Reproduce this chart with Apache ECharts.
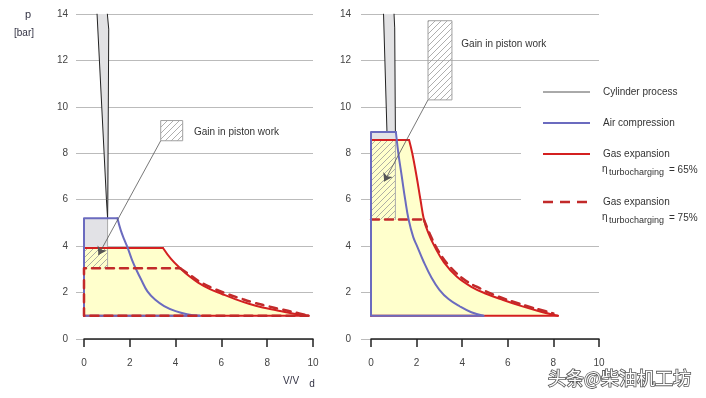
<!DOCTYPE html>
<html>
<head>
<meta charset="utf-8">
<script src="https://cdn.jsdelivr.net/npm/echarts@6/dist/echarts.min.js"></script>
<style>
  html, body { margin: 0; padding: 0; background: #fff; }
  #pv { width: 706px; height: 398px; }
</style>
</head>
<body>
<div id="pv"></div>
<script>
// axis ranges
var vRange = [0, 10]
var pRange = [0, 14]

// ---- left diagram ----
var cylLeftA = [[0.57, 14], [0.98, 6.0], [1.03, 5.2]]
var cylLeftB = [[1.02, 14], [1.08, 13.35], [1.04, 6.0], [1.03, 5.2]]
var airLeftCorner = [[5.05, 1.0], [0, 1.0], [0, 5.2], [1.46, 5.2]]
var airLeftCurve = [[1.46, 5.2], [1.6, 4.7], [1.75, 4.3], [1.9, 3.95], [2.1, 3.4], [2.3, 2.95], [2.5, 2.55],
  [2.77, 2.05], [3.1, 1.7], [3.5, 1.42], [4.0, 1.2], [4.5, 1.07], [5.05, 1.0]]
var gas65LeftCorner = [[0, 1.0], [0, 3.92], [3.45, 3.92]]
var gas65LeftCurve = [[3.45, 3.92], [3.8, 3.45], [4.2, 3.05], [4.6, 2.7], [5.0, 2.42], [5.5, 2.15],
  [6.0, 1.95], [6.6, 1.72], [7.2, 1.52], [7.8, 1.36], [8.4, 1.24], [9.0, 1.12], [9.8, 1.0]]
var gas75LeftCorner = [[9.8, 1.0], [0, 1.0], [0, 3.05], [4.2, 3.05]]
var gas75LeftCurve = [[4.2, 3.05], [4.6, 2.78], [5.0, 2.5], [5.6, 2.2], [6.2, 1.96], [6.8, 1.76],
  [7.4, 1.57], [8.0, 1.42], [8.6, 1.28], [9.2, 1.15], [9.8, 1.0]]
var grayBoxLeft = [0, 3.92, 1.03, 5.2]
var hatchLeft = [0, 3.05, 1.03, 3.92]
var edgeLeft = [[1.03, 5.2], [1.03, 3.05]]
var gainBoxLeft = [3.35, 8.54, 4.31, 9.41]
var gainTextLeft = [4.8, 8.92]
var arrowLeft = [[3.35, 8.54], [0.63, 3.62]]

// ---- right diagram ----
var cylRightA = [[0.55, 14], [0.70, 8.92]]
var cylRightB = [[1.01, 14], [1.04, 13.4], [1.07, 8.92]]
var airRightCorner = [[4.93, 1.0], [0, 1.0], [0, 8.92], [1.09, 8.92]]
var airRightCurve = [[1.09, 8.92], [1.2, 8.0], [1.35, 7.0], [1.5, 6.0], [1.65, 5.15], [1.85, 4.4],
  [2.02, 4.0], [2.3, 3.35], [2.65, 2.65], [3.0, 2.12], [3.4, 1.72], [3.9, 1.4], [4.4, 1.15], [4.93, 1.0]]
var gas65RightCorner = [[0, 1.0], [0, 8.57], [1.67, 8.57]]
var gas65RightCurve = [[1.67, 8.57], [1.81, 8.0], [2.0, 7.0], [2.17, 6.0], [2.32, 5.15], [2.5, 4.6],
  [2.78, 4.0], [3.2, 3.3], [3.77, 2.68], [4.4, 2.25], [5.05, 1.95], [5.8, 1.68], [6.5, 1.45],
  [7.3, 1.22], [8.2, 1.0]]
var gas75RightCorner = [[0, 5.15], [2.32, 5.15]]
var gas75RightCurve = [[2.32, 5.15], [2.6, 4.48], [3.0, 3.72], [3.5, 3.08], [4.1, 2.55], [4.8, 2.17],
  [5.5, 1.86], [6.2, 1.62], [6.9, 1.4], [7.5, 1.24], [8.0, 1.1]]
var grayBoxRight = [0, 8.57, 1.07, 8.92]
var hatchRight = [0, 5.15, 1.07, 8.57]
var edgeRight = [[1.07, 8.57], [1.07, 5.15]]
var gainBoxRight = [2.5, 10.3, 3.55, 13.71]
var gainTextRight = [3.96, 12.71]
var arrowRight = [[2.5, 10.3], [0.58, 6.78]]

var gainText = 'Gain in piston work'

var BLUE = '#6b6bbf'
var RED = '#d42020'
var RED_D = '#c22a2a'
var FONT = '"Liberation Sans", Arial, sans-serif'

// diagonal hatch pattern
var hatchCanvas = document.createElement('canvas')
hatchCanvas.width = 6
hatchCanvas.height = 6
var hc = hatchCanvas.getContext('2d')
hc.strokeStyle = '#9a9a9a'
hc.lineWidth = 0.8
hc.beginPath()
hc.moveTo(0, 6); hc.lineTo(6, 0)
hc.moveTo(-1, 1); hc.lineTo(1, -1)
hc.moveTo(5, 7); hc.lineTo(7, 5)
hc.stroke()
var hatch = { image: hatchCanvas, repeat: 'repeat' }

function rectPts (b) {
  return [[b[0], b[1]], [b[2], b[1]], [b[2], b[3]], [b[0], b[3]]]
}

function poly (idx, pts, style, z) {
  return {
    type: 'custom', xAxisIndex: idx, yAxisIndex: idx, z: z, silent: true, animation: false,
    data: [[0, 0]],
    renderItem: function (params, api) {
      return {
        type: 'polygon',
        shape: { points: pts.map(function (p) { return api.coord(p) }) },
        style: style
      }
    }
  }
}

function path (idx, pts, color, width, dash, z, smooth) {
  return {
    type: 'line', xAxisIndex: idx, yAxisIndex: idx, data: pts, symbol: 'none', showSymbol: false,
    z: z, silent: true, animation: false, smooth: smooth || false,
    lineStyle: { color: color, width: width, type: dash || 'solid', cap: 'round', join: 'round' }
  }
}

function label (idx, pt, text) {
  return {
    type: 'custom', xAxisIndex: idx, yAxisIndex: idx, z: 12, silent: true, animation: false,
    data: [[0, 0]],
    renderItem: function (params, api) {
      var c = api.coord(pt)
      return {
        type: 'text', x: c[0], y: c[1],
        style: { text: text, fill: '#333', font: '10px ' + FONT, align: 'left', verticalAlign: 'middle' }
      }
    }
  }
}

function arrow (idx, coords) {
  return {
    type: 'lines', coordinateSystem: 'cartesian2d', xAxisIndex: idx, yAxisIndex: idx, z: 11,
    silent: true, animation: false, symbol: ['none', 'arrow'], symbolSize: 8,
    lineStyle: { color: '#555', width: 0.8, opacity: 1 },
    data: [{ coords: coords }]
  }
}

function panel (idx, d) {
  var cylFill = d.cylA.concat(d.cylB.slice().reverse())
  var yellow = d.gasCorner.concat(d.gasCurve.slice(1))
  if (yellow[0][0] !== 0 || yellow[0][1] !== 1.0) yellow.unshift([0, 1.0])
  var s = [
    poly(idx, yellow, { fill: '#ffffcc' }, 1),
    poly(idx, rectPts(d.grayBox), { fill: '#e2e2e6' }, 2),
    poly(idx, rectPts(d.hatch), { fill: hatch }, 3),
    poly(idx, cylFill, { fill: '#e2e2e4' }, 4),
    path(idx, d.cylA, '#222', 1, null, 5),
    path(idx, d.cylB, '#222', 1, null, 5),
    path(idx, d.edge, '#aaa', 1, null, 5),
    path(idx, [d.gasCurve[d.gasCurve.length - 1], [0, 1.0]], RED, 2, null, 6),
    path(idx, d.gasCorner, RED, 2, null, 6),
    path(idx, d.gasCurve, RED, 2, null, 6, 0.4),
    path(idx, d.airCorner, BLUE, 2, null, d.airZ),
    path(idx, d.airCurve, BLUE, 2, null, d.airZ, 0.4),
    path(idx, d.dashCorner, RED_D, 2.5, [8, 6], d.dashZ),
    path(idx, d.dashCurve, RED_D, 2.5, [8, 6], d.dashZ, 0.4),
    poly(idx, rectPts(d.gainBox), { fill: hatch, stroke: '#a0a0a0', lineWidth: 1 }, 9),
    label(idx, d.gainText, gainText),
    arrow(idx, d.arrow)
  ]
  return s
}

var series = panel(0, {
  cylA: cylLeftA, cylB: cylLeftB, airCorner: airLeftCorner, airCurve: airLeftCurve,
  gasCorner: gas65LeftCorner, gasCurve: gas65LeftCurve,
  dashCorner: gas75LeftCorner, dashCurve: gas75LeftCurve,
  grayBox: grayBoxLeft, hatch: hatchLeft, edge: edgeLeft, gainBox: gainBoxLeft,
  gainText: gainTextLeft, arrow: arrowLeft, airZ: 7, dashZ: 8
}).concat(panel(1, {
  cylA: cylRightA, cylB: cylRightB, airCorner: airRightCorner, airCurve: airRightCurve,
  gasCorner: gas65RightCorner, gasCurve: gas65RightCurve,
  dashCorner: gas75RightCorner, dashCurve: gas75RightCurve,
  grayBox: grayBoxRight, hatch: hatchRight, edge: edgeRight, gainBox: gainBoxRight,
  gainText: gainTextRight, arrow: arrowRight, airZ: 8, dashZ: 7
}))

function xAx (idx) {
  return {
    gridIndex: idx, type: 'value', min: vRange[0], max: vRange[1], interval: 2,
    axisLine: { show: true, onZero: false, lineStyle: { color: '#222', width: 1.5 } },
    axisTick: { show: true, length: 8, lineStyle: { color: '#222', width: 1.5 } },
    axisLabel: { margin: 19, color: '#444', fontSize: 10, fontFamily: FONT },
    splitLine: { show: false }
  }
}

function yAx (idx, tick, margin) {
  return {
    gridIndex: idx, type: 'value', min: pRange[0], max: pRange[1], interval: 2,
    axisLine: { show: false },
    axisTick: { show: true, length: tick, lineStyle: { color: '#bbb' } },
    axisLabel: { margin: margin, color: '#444', fontSize: 10, fontFamily: FONT },
    splitLine: { show: true, lineStyle: { color: '#bbb', width: 1 } }
  }
}

// legend drawn by hand, like the original figure
var legendItems = [
  { y: 92, color: '#555', width: 1, dash: null, text: 'Cylinder process' },
  { y: 123, color: BLUE, width: 2, dash: null, text: 'Air compression' },
  { y: 154, color: RED, width: 2.2, dash: null, text: 'Gas expansion', eta: '= 65%' },
  { y: 202, color: RED_D, width: 2.5, dash: [10, 7], text: 'Gas expansion', eta: '= 75%' }
]

var graphics = [
  // legend area has no grid lines for 10, 8, 6
  { type: 'rect', shape: { x: 521, y: 95, width: 85, height: 115 }, style: { fill: '#fff' }, z: 50, silent: true }
]
legendItems.forEach(function (it) {
  graphics.push({
    type: 'line', z: 60, silent: true,
    shape: { x1: 543, y1: it.y, x2: 590, y2: it.y },
    style: { stroke: it.color, lineWidth: it.width, lineDash: it.dash }
  })
  graphics.push({
    type: 'text', z: 60, silent: true, x: 603, y: it.y,
    style: { text: it.text, fill: '#333', font: '10px ' + FONT, verticalAlign: 'middle' }
  })
  if (it.eta) {
    graphics.push({ type: 'text', z: 60, silent: true, x: 602, y: it.y + 15,
      style: { text: 'η', fill: '#333', font: '10px ' + FONT, verticalAlign: 'middle' } })
    graphics.push({ type: 'text', z: 60, silent: true, x: 609, y: it.y + 19,
      style: { text: 'turbocharging', fill: '#333', font: '9px ' + FONT, verticalAlign: 'middle' } })
    graphics.push({ type: 'text', z: 60, silent: true, x: 669, y: it.y + 16,
      style: { text: it.eta, fill: '#333', font: '10px ' + FONT, verticalAlign: 'middle' } })
  }
})
graphics.push(
  { type: 'text', silent: true, x: 28, y: 15, style: { text: 'p', fill: '#334', font: '11px ' + FONT, align: 'center', verticalAlign: 'middle' } },
  { type: 'text', silent: true, x: 24, y: 33, style: { text: '[bar]', fill: '#334', font: '10px ' + FONT, align: 'center', verticalAlign: 'middle' } },
  { type: 'text', silent: true, x: 291, y: 381, style: { text: 'V/V', fill: '#334', font: '10px ' + FONT, align: 'center', verticalAlign: 'middle' } },
  { type: 'text', silent: true, x: 312, y: 384, style: { text: 'd', fill: '#334', font: '10px ' + FONT, align: 'center', verticalAlign: 'middle' } },
  { type: 'text', silent: true, z: 70, x: 548, y: 378,
    style: { text: '头条@柴油机工坊', fill: '#fff', stroke: '#555', lineWidth: 1.6,
      font: '18px "Noto Sans CJK SC", sans-serif', verticalAlign: 'middle' } }
)

var chart = echarts.init(document.getElementById('pv'))
chart.setOption({
  backgroundColor: '#fff',
  animation: false,
  grid: [
    { left: 84, top: 14, width: 229, height: 325 },
    { left: 371, top: 14, width: 228, height: 325 }
  ],
  xAxis: [xAx(0), xAx(1)],
  yAxis: [yAx(0, 8, 16), yAx(1, 10, 20)],
  series: series,
  graphic: graphics
})
</script>
</body>
</html>
